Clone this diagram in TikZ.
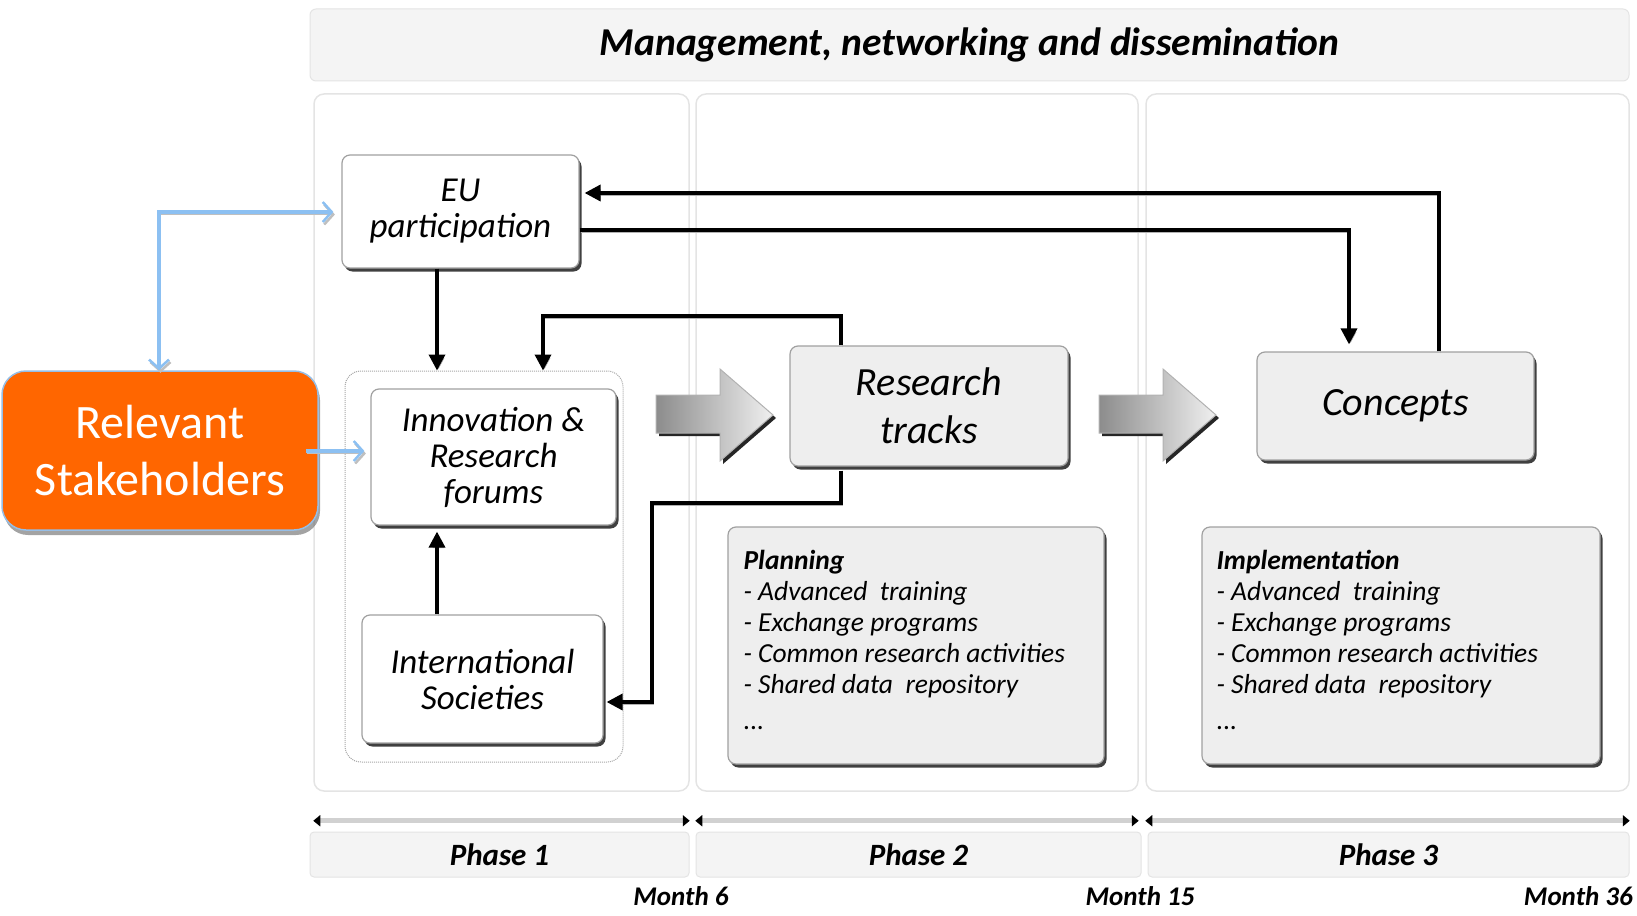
\documentclass[tikz,border=0pt]{standalone}
\usepackage{fontspec}
\setmainfont{Carlito}
\usetikzlibrary{arrows.meta,shadows,calc}

\definecolor{stakeorange}{RGB}{255,102,0}
\definecolor{stakerim}{RGB}{150,190,230}
\definecolor{skyline}{RGB}{140,192,242}
\definecolor{panelline}{RGB}{228,228,228}
\definecolor{panelfill}{RGB}{244,244,244}
\definecolor{boxfill}{RGB}{238,238,238}
\definecolor{boxrim}{RGB}{160,160,160}

\tikzset{
  panel/.style={draw=panelline, line width=1.5pt, rounded corners=10pt, inner sep=0pt},
  bar/.style={draw=panelline, line width=1pt, fill=panelfill, rounded corners=4pt, inner sep=0pt,
    font=\bfseries\itshape\fontsize{31}{36}\selectfont},
  stagebox/.style={draw=boxrim, line width=1.2pt, rounded corners=8pt, fill=white,
    drop shadow={shadow xshift=2.5pt, shadow yshift=-3.5pt, fill=black!75, opacity=1},
    align=center, inner sep=0pt, font=\itshape\fontsize{35}{36}\selectfont},
  greybox/.style={stagebox, fill=boxfill},
  listtext/.style={align=left, inner sep=0pt, anchor=north west,
    font=\itshape\fontsize{27.5}{31}\selectfont},
  conn/.style={line width=3.5pt, -{Triangle[length=16pt,width=16pt]},
    preaction={draw=black!30, transform canvas={shift={(1.5pt,-2pt)}}}},
  blueconn/.style={draw=skyline, line width=3.5pt,
    preaction={draw=black!25, transform canvas={shift={(1.5pt,-2.5pt)}}}},
  bluetip/.style={-{Straight Barb[length=9pt,width=20pt,line width=2.5pt]}},
  timeline/.style={draw=black!18, line width=5pt,
    {Triangle[length=7pt,width=11pt,color=black]}-{Triangle[length=7pt,width=11pt,color=black]}},
  monthlabel/.style={inner sep=0pt, font=\bfseries\itshape\fontsize{27}{30}\selectfont},
  blockarrow/.style={left color=black!45, right color=black!6, draw=black!30, line width=1pt},
}

\begin{document}
\begin{tikzpicture}[x=1pt,y=-1pt]
\useasboundingbox (0,0) rectangle (1637,915);

% header banner and phase columns
\node[bar, minimum width=1319pt, minimum height=72pt, rounded corners=6pt,
  font=\bfseries\itshape\fontsize{39.5}{44}\selectfont] (banner) at (969.5,45)
  {Management, networking and dissemination};
\node[panel, minimum width=375pt, minimum height=697pt] (col1) at (501.5,442.5) {};
\node[panel, minimum width=442pt, minimum height=697pt] (col2) at (917,442.5) {};
\node[panel, minimum width=483pt, minimum height=697pt] (col3) at (1387.5,442.5) {};

% time axis
\draw[timeline] ($(col1.south west)+(0,29)$) -- ($(col1.south east)+(0,29)$);
\draw[timeline] ($(col2.south west)+(0,29)$) -- ($(col2.south east)+(0,29)$);
\draw[timeline] ($(col3.south west)+(0,29)$) -- ($(col3.south east)+(0,29)$);
\node[bar, minimum width=379pt, minimum height=45pt] (ph1) at (499.5,854.5) {Phase 1};
\node[bar, minimum width=445pt, minimum height=45pt] (ph2) at (918.5,854.5) {Phase 2};
\node[bar, minimum width=481pt, minimum height=45pt] (ph3) at (1388.5,854.5) {Phase 3};
\node[monthlabel] (m6) at (681,896) {Month 6};
\node[monthlabel] (m15) at (1140,896) {Month 15};
\node[monthlabel, anchor=east] (m36) at (1633,896) {Month 36};

% phase 1 elements
\node[draw=black!35, densely dotted, line width=1pt, rounded corners=16pt,
  minimum width=278pt, minimum height=391pt, inner sep=0pt] (grp) at (484,566.5) {};
\node[stagebox, minimum width=237pt, minimum height=113pt] (eu) at (460.5,211.5)
  {EU\\participation};
\node[stagebox, minimum width=245pt, minimum height=136pt] (inn) at (493.5,457)
  {Innovation \&\\Research\\forums};
\node[stagebox, minimum width=241pt, minimum height=128pt] (intl) at (482.5,679)
  {International\\Societies};

% stakeholders
\node[draw=stakerim, line width=1.5pt, fill=stakeorange, rounded corners=24pt,
  minimum width=316pt, minimum height=159pt, inner sep=0pt, align=center,
  text=white, font=\fontsize{48}{57}\selectfont,
  drop shadow={shadow xshift=2pt, shadow yshift=-5pt, fill=black!60, opacity=0.6}]
  (stake) at (160,450.5) {Relevant\\Stakeholders};

% phases 2 and 3
\node[greybox, minimum width=278pt, minimum height=120pt,
  font=\itshape\fontsize{40}{48}\selectfont] (rt) at (929,406) {Research\\tracks};
\node[greybox, minimum width=277pt, minimum height=108pt,
  font=\itshape\fontsize{40}{48}\selectfont] (co) at (1395.5,406) {Concepts};
\node[greybox, minimum width=376pt, minimum height=237pt] (plan) at (916,645.5) {};
\node[greybox, minimum width=398pt, minimum height=237pt] (impl) at (1401,645.5) {};
\node[listtext] (planT) at ($(plan.north west)+(16,24)$)
  {\textbf{Planning}\\- Advanced\ \ training\\- Exchange programs\\- Common research activities\\- Shared data\ \ repository\\[5pt]...};
\node[listtext] (implT) at ($(impl.north west)+(15,24)$)
  {\textbf{Implementation}\\- Advanced\ \ training\\- Exchange programs\\- Common research activities\\- Shared data\ \ repository\\[5pt]...};

% block arrows between phases
\foreach \dx in {0,443}{
  \fill[black!85] (659+\dx,398) -- (723+\dx,398) -- (723+\dx,372) -- (776+\dx,418)
    -- (723+\dx,464) -- (723+\dx,436) -- (659+\dx,436) -- cycle;
  \path[blockarrow] (656+\dx,395) -- (720+\dx,395) -- (720+\dx,369) -- (773+\dx,415)
    -- (720+\dx,461) -- (720+\dx,433) -- (656+\dx,433) -- cycle;
}

% connector anchors
\coordinate (xa) at (437,0);
\coordinate (xb) at (543,0);
\coordinate (xc) at (841,0);
\coordinate (xd) at (1349,0);
\coordinate (xe) at (1439,0);
\coordinate (xf) at (652,0);
\coordinate (xs) at (159,0);
\coordinate (ytop) at (0,316);
\coordinate (yfb) at (0,193);
\coordinate (yfw) at (0,230);
\coordinate (ylow) at (0,503);
\coordinate (yin) at (0,702);
\coordinate (yeu) at (0,212);
\coordinate (yinn) at (0,451);

% black flow connectors
\draw[conn] (eu.south -| xa) -- (grp.north -| xa);
\draw[conn] (intl.north -| xa) -- ($(inn.south -| xa)+(0,6)$);
\draw[conn] (rt.north -| xc) -- (xc |- ytop) -| (grp.north -| xb);
\draw[conn] (co.north -| xe) |- ($(eu.east |- yfb)+(5,0)$);
\draw[conn] (eu.east |- yfw) -| ($(co.north -| xd)+(0,-7)$);
\draw[conn] ($(rt.south -| xc)+(0,4)$) |- (xf |- ylow) |- ($(intl.east |- yin)+(3,0)$);

% stakeholder links
\draw[blueconn, {Straight Barb[length=9pt,width=20pt,line width=2.5pt]}-{Straight Barb[length=9pt,width=20pt,line width=2.5pt]}]
  (stake.north -| xs) |- ($(eu.west |- yeu)+(-8,0)$);
\draw[blueconn, bluetip] ($(stake.east |- yinn)+(-13,0)$) -- ($(inn.west |- yinn)+(-6,0)$);

\end{tikzpicture}
\end{document}
